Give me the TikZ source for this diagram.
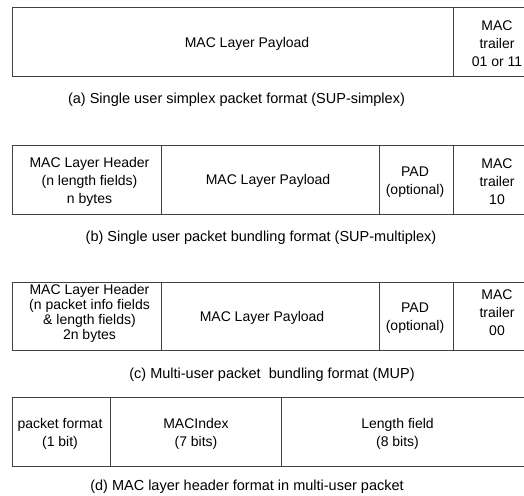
\documentclass[tikz,border=0pt]{standalone}
\usepackage{fontspec}
\setmainfont{Liberation Sans}
\definecolor{linegray}{HTML}{404040}
\tikzset{
  fld/.style={draw=linegray, line width=1pt},
  txt/.style={align=center, font=\fontsize{14}{18}\selectfont, inner sep=0pt, text=black},
  tighttxt/.style={align=center, font=\fontsize{14}{15}\selectfont, inner sep=0pt, text=black},
  captxt/.style={font=\fontsize{14.5}{17}\selectfont, inner sep=0pt, text=black}
}
\begin{document}
\begin{tikzpicture}[x=1pt,y=-1pt]
\useasboundingbox (0,0) rectangle (524,495);
\clip (0,0) rectangle (524,495);
% (a)
\draw[fld] (12.7,7.5) rectangle (545,76.5);
\draw[fld] (453,7.5) -- (453,76.5);
\node[txt] (apay) at (247,43.5) {MAC Layer Payload};
\node[txt] (atrl) at (497,43.5) {MAC\\trailer\\01 or 11};
\node[captxt] (acap) at (236.5,100) {(a) Single user simplex packet format (SUP-simplex)};
% (b)
\draw[fld] (12.7,145) rectangle (545,214);
\draw[fld] (161.5,145) -- (161.5,214);
\draw[fld] (379,145) -- (379,214);
\draw[fld] (453,145) -- (453,214);
\node[txt] (bhdr) at (89.5,182) {MAC Layer Header\\(n length fields)\\n bytes};
\node[txt] (bpay) at (268,181) {MAC Layer Payload};
\node[txt] (bpad) at (415,182) {PAD\\(optional)};
\node[txt] (btrl) at (497,182) {MAC\\trailer\\10};
\node[captxt] (bcap) at (261,238) {(b) Single user packet bundling format (SUP-multiplex)};
% (c)
\draw[fld] (12.7,282) rectangle (545,350);
\draw[fld] (161.5,282) -- (161.5,350);
\draw[fld] (379,282) -- (379,350);
\draw[fld] (453,282) -- (453,350);
\node[tighttxt] (chdr) at (89.5,313) {MAC Layer Header\\(n packet info fields\\\& length fields)\\2n bytes};
\node[txt] (cpay) at (262,318) {MAC Layer Payload};
\node[txt] (cpad) at (415,318) {PAD\\(optional)};
\node[txt] (ctrl) at (497,313) {MAC\\trailer\\00};
\node[captxt] (ccap) at (272,375) {(c) Multi-user packet\ \ bundling format (MUP)};
% (d)
\draw[fld] (12.7,397) rectangle (545,466);
\draw[fld] (110,397) -- (110,466);
\draw[fld] (281,397) -- (281,466);
\node[txt] (dpf) at (60,434) {packet format\\(1 bit)};
\node[txt] (dmi) at (196,434) {MACIndex\\(7 bits)};
\node[txt] (dlf) at (397.5,434) {Length field\\(8 bits)};
\node[captxt] (dcap) at (247,487) {(d) MAC layer header format in multi-user packet};
\end{tikzpicture}
\end{document}
